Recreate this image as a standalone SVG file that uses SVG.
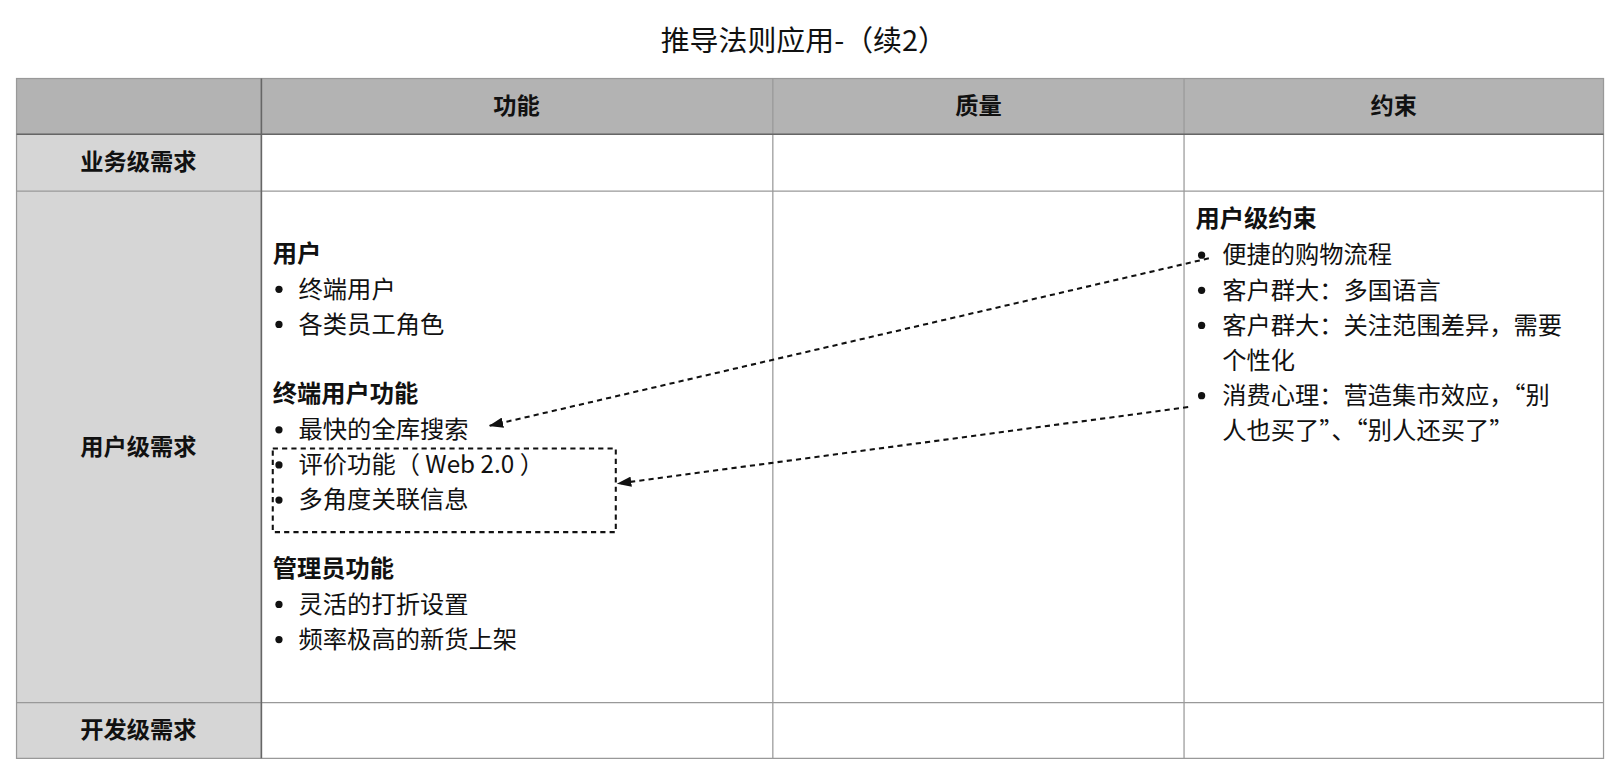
<svg xmlns="http://www.w3.org/2000/svg" width="1620" height="772" viewBox="0 0 1620 772">
<style>
text{font-family:"Noto Sans CJK SC","Liberation Sans",sans-serif;font-size:23.5px;fill:#111}
.b{font-weight:bold}
.h{font-weight:bold;text-anchor:middle;font-size:22.5px}
.g{stroke:#999;stroke-width:1.2;fill:none}
.d{stroke:#111;stroke-width:2;stroke-dasharray:5,4;fill:none}
.dot{fill:#111}
</style>
<defs><marker id="ah" markerWidth="14" markerHeight="10" refX="13" refY="5" orient="auto" markerUnits="userSpaceOnUse"><path d="M0,0 L14,5 L0,10 Z" fill="#111"/></marker></defs>
<rect width="1620" height="772" fill="#fff"/>
<g transform="scale(1.0332)">
<text x="778" y="49" class="h" style="font-weight:normal;font-size:28px">推导法则应用-（续2）</text>
<g id="table">
<rect x="16" y="76" width="1536" height="54" fill="#b3b3b3"/>
<rect x="16" y="130" width="237" height="604" fill="#d6d6d6"/>
<rect x="16" y="76" width="1536" height="658" class="g"/>
<path class="g" d="M16,130H1552M16,185H1552M16,680H1552M253,76V734M748,76V734M1146,76V734"/>
<line x1="16" y1="130" x2="1552" y2="130" stroke="#666" stroke-width="1.5"/>
<line x1="253" y1="76" x2="253" y2="734" stroke="#666" stroke-width="1.5"/>
<text x="500" y="110" class="h">功能</text>
<text x="947" y="110" class="h">质量</text>
<text x="1349" y="110" class="h">约束</text>
<text x="134" y="165" class="h">业务级需求</text>
<text x="134" y="440" class="h">用户级需求</text>
<text x="134" y="714" class="h">开发级需求</text>
</g>
<g id="func">
<text x="264" y="254" class="b">用户</text>
<circle class="dot" cx="270" cy="280" r="3.5"/><text x="289" y="288">终端用户</text>
<circle class="dot" cx="270" cy="314" r="3.5"/><text x="289" y="322">各类员工角色</text>
<text x="264" y="389" class="b">终端用户功能</text>
<circle class="dot" cx="270" cy="416" r="3.5"/><text x="289" y="424">最快的全库搜索</text>
<circle class="dot" cx="270" cy="450" r="3.5"/><text x="289" y="458">评价功能（ Web 2.0 ）</text>
<circle class="dot" cx="270" cy="484" r="3.5"/><text x="289" y="492">多角度关联信息</text>
<text x="264" y="558" class="b">管理员功能</text>
<circle class="dot" cx="270" cy="585" r="3.5"/><text x="289" y="593">灵活的打折设置</text>
<circle class="dot" cx="270" cy="619" r="3.5"/><text x="289" y="627">频率极高的新货上架</text>
</g>
<g id="box"><rect x="264" y="434" width="332" height="81" class="d"/></g>
<g id="constraint">
<text x="1157" y="220" class="b">用户级约束</text>
<circle class="dot" cx="1163" cy="247" r="3.5"/><text x="1183" y="255">便捷的购物流程</text>
<circle class="dot" cx="1163" cy="281" r="3.5"/><text x="1183" y="289">客户群大：多国语言</text>
<circle class="dot" cx="1163" cy="315" r="3.5"/><text x="1183" y="323">客户群大：关注范围差异，需要</text>
<text x="1183" y="357">个性化</text>
<circle class="dot" cx="1163" cy="383" r="3.5"/><text x="1183" y="391">消费心理：营造集市效应，“别</text>
<text x="1183" y="425">人也买了”、“别人还买了”</text>
</g>
<g id="connectors">
<line x1="1170" y1="250" x2="474" y2="412" class="d" marker-end="url(#ah)"/>
<line x1="1150" y1="394" x2="598" y2="468" class="d" marker-end="url(#ah)"/>
</g>
</g>
</svg>
